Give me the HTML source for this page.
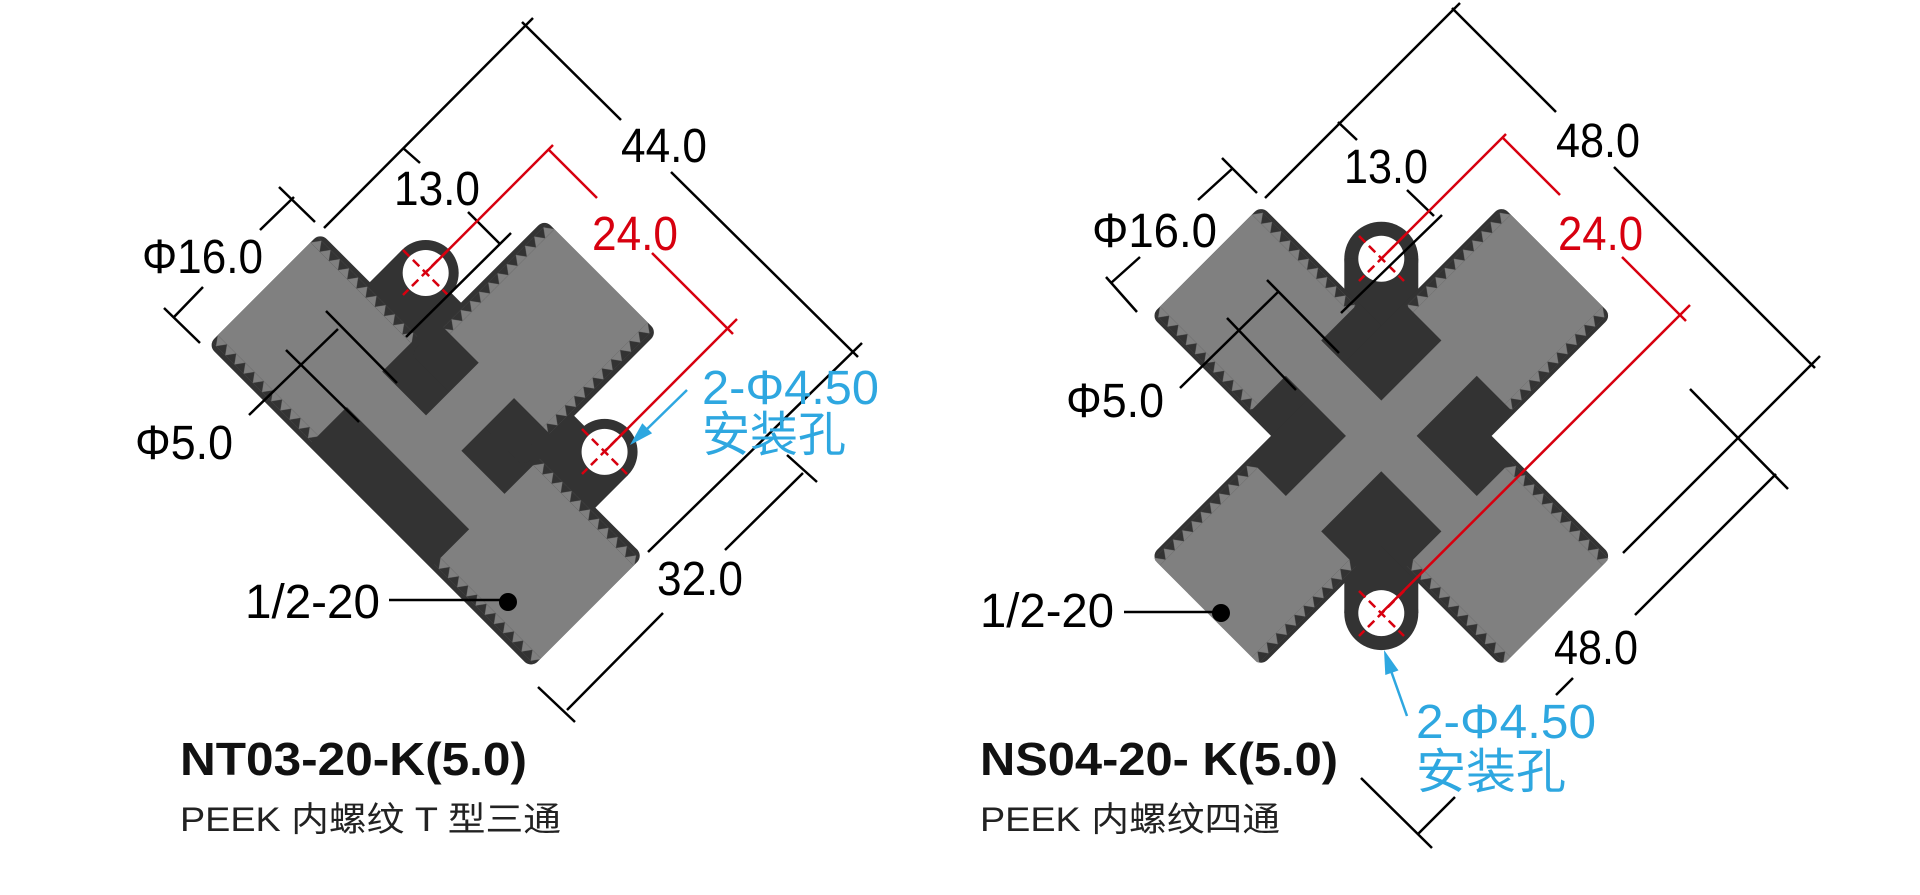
<!DOCTYPE html>
<html><head><meta charset="utf-8"><style>
html,body{margin:0;padding:0;background:#fff;}
svg{display:block;}
text{font-family:"Liberation Sans","Noto Sans CJK SC",sans-serif;}
</style></head><body>
<svg width="1920" height="895" viewBox="0 0 1920 895" xmlns="http://www.w3.org/2000/svg">
<defs>
<pattern id="tu" width="13" height="9" patternUnits="userSpaceOnUse"><path d="M0 9 L6.5 0 L13 9Z" fill="#808080"/></pattern>
<pattern id="td" width="13" height="9" patternUnits="userSpaceOnUse"><path d="M0 0 L6.5 9 L13 0Z" fill="#808080"/></pattern>
<pattern id="tl" width="9" height="13" patternUnits="userSpaceOnUse"><path d="M9 0 L0 6.5 L9 13Z" fill="#808080"/></pattern>
<pattern id="tr" width="9" height="13" patternUnits="userSpaceOnUse"><path d="M0 0 L9 6.5 L0 13Z" fill="#808080"/></pattern>
</defs>

<!-- LEFT T piece -->
<g transform="rotate(45)">
 <g fill="#333">
  <rect x="391" y="-62" width="457" height="159" rx="9"/>
  <rect x="540" y="-230" width="160" height="190" rx="9"/>
  <circle cx="494" cy="-108" r="33"/><rect x="461" y="-108" width="66" height="60"/>
  <rect x="500" y="-112" width="52" height="60"/>
  <circle cx="747" cy="-108" r="33"/><rect x="714" y="-108" width="66" height="60"/>
  <rect x="690" y="-112" width="50" height="60"/>
 </g>
 <g fill="#808080">
  <rect x="391" y="-7.5" width="457" height="50"/>
  <rect x="595" y="-230" width="50" height="272"/>
  <rect x="391" y="-48" width="142" height="131"/>
  <rect x="706" y="-48" width="142" height="131"/>
  <rect x="554" y="-230" width="132" height="148"/>
 </g>
 <g transform="translate(391,-57)"><rect width="142" height="9" fill="url(#tu)"/></g>
 <g transform="translate(391,83)"><rect width="142" height="9" fill="url(#td)"/></g>
 <g transform="translate(706,-57)"><rect width="142" height="9" fill="url(#tu)"/></g>
 <g transform="translate(706,83)"><rect width="142" height="9" fill="url(#td)"/></g>
 <g transform="translate(545,-230)"><rect width="9" height="148" fill="url(#tl)"/></g>
 <g transform="translate(686,-230)"><rect width="9" height="148" fill="url(#tr)"/></g>
 <circle cx="494" cy="-108" r="23" fill="#fff"/>
 <circle cx="747" cy="-108" r="23" fill="#fff"/>
</g>

<!-- RIGHT cross piece -->
<g fill="#333">
 <circle cx="1381.3" cy="258.7" r="37"/><rect x="1344.3" y="258.7" width="74" height="80"/>
 <circle cx="1381.3" cy="613.1" r="37"/><rect x="1344.3" y="533" width="74" height="80"/>
</g>
<g transform="translate(1381.3,435.9) rotate(45)">
 <g fill="#333">
  <rect x="-248" y="-78" width="496" height="156" rx="9"/>
  <rect x="-78" y="-248" width="156" height="496" rx="9"/>
 </g>
 <g fill="#808080">
  <rect x="-248" y="-25" width="496" height="50"/>
  <rect x="-25" y="-248" width="50" height="496"/>
  <rect x="110" y="-65" width="138" height="130"/>
  <rect x="-248" y="-65" width="138" height="130"/>
  <rect x="-65" y="110" width="130" height="138"/>
  <rect x="-65" y="-248" width="130" height="138"/>
 </g>
 <g transform="translate(110,-74)"><rect width="138" height="9" fill="url(#tu)"/></g>
 <g transform="translate(110,65)"><rect width="138" height="9" fill="url(#td)"/></g>
 <g transform="translate(-248,-74)"><rect width="138" height="9" fill="url(#tu)"/></g>
 <g transform="translate(-248,65)"><rect width="138" height="9" fill="url(#td)"/></g>
 <g transform="translate(-74,110)"><rect width="9" height="138" fill="url(#tl)"/></g>
 <g transform="translate(65,110)"><rect width="9" height="138" fill="url(#tr)"/></g>
 <g transform="translate(-74,-248)"><rect width="9" height="138" fill="url(#tl)"/></g>
 <g transform="translate(65,-248)"><rect width="9" height="138" fill="url(#tr)"/></g>
</g>
<circle cx="1381.3" cy="258.7" r="23" fill="#fff"/>
<circle cx="1381.3" cy="613.1" r="23" fill="#fff"/>

<!-- red dashed crosses -->
<g stroke="#d7000f" stroke-width="2.5" stroke-dasharray="9 5" fill="none">
 <path d="M403 250 L448 295 M448 250 L403 295"/>
 <path d="M582 429 L627 474 M627 429 L582 474"/>
 <path d="M1359 236 L1404 281 M1404 236 L1359 281"/>
 <path d="M1359 591 L1404 636 M1404 591 L1359 636"/>
</g>

<!-- black dimension lines -->
<g stroke="#000" stroke-width="2.5" fill="none">
 <path d="M324 228 L533 18"/>
 <path d="M522 22 L621 120 M671 172 L858 357"/>
 <path d="M648 552 L862 343"/>
 <path d="M403 148 L420 163 M468 212 L500 244"/>
 <path d="M511 233 L406 337"/>
 <path d="M279 187 L315 222 M260 230 L294 197"/>
 <path d="M164 308 L200 343 M174 317 L203 287"/>
 <path d="M326 311 L397 383 M286 350 L359 422 M249 415 L338 329"/>
 <path d="M567 710 L663 613 M725 550 L803 473 M538 687 L575 722 M787 455 L817 482"/>
 <path d="M389 600 L508 600"/>
 <path d="M1265 198 L1460 3"/>
 <path d="M1452 8 L1556 112 M1614 167 L1815 368"/>
 <path d="M1623 553 L1820 356"/>
 <path d="M1338 122 L1357 140 M1407 190 L1434 216"/>
 <path d="M1442 215 L1341 313"/>
 <path d="M1222 158 L1257 193 M1198 200 L1233 168"/>
 <path d="M1106 277 L1137 312 M1111 283 L1140 257"/>
 <path d="M1267 280 L1339 353 M1227 318 L1296 390 M1180 388 L1278 292"/>
 <path d="M1418 834 L1455 797 M1556 695 L1573 678 M1635 615 L1776 474 M1690 389 L1788 489 M1361 778 L1432 848"/>
 <path d="M1124 612 L1221 612"/>
</g>
<circle cx="508" cy="602" r="9" fill="#000"/>
<circle cx="1221" cy="613" r="9" fill="#000"/>

<!-- red lines -->
<g stroke="#d7000f" stroke-width="2.5" fill="none">
 <path d="M425.5 272.8 L553 145"/>
 <path d="M549 150 L597 198 M652 253 L733 334"/>
 <path d="M604.6 451.6 L737 319"/>
 <path d="M1381.3 258.7 L1506 134"/>
 <path d="M1502 137 L1560 195 M1622 257 L1686 321"/>
 <path d="M1381.3 613.1 L1690 305"/>
</g>

<!-- blue leaders -->
<g stroke="#2ea7e0" stroke-width="2.5" fill="none">
 <path d="M687 390 L645 431"/>
 <path d="M1407 716 L1390 668"/>
</g>
<path d="M630 445 L652.1 433.3 L642.3 423.3Z" fill="#2ea7e0"/>
<path d="M1384 650 L1398.5 670.4 L1385.3 675Z" fill="#2ea7e0"/>

<!-- dimension texts -->
<g font-size="48" fill="#000">
 <text x="142" y="273" textLength="121" lengthAdjust="spacingAndGlyphs">Φ16.0</text>
 <text x="394" y="205" textLength="86" lengthAdjust="spacingAndGlyphs">13.0</text>
 <text x="621" y="162" textLength="86" lengthAdjust="spacingAndGlyphs">44.0</text>
 <text x="135" y="459" textLength="98" lengthAdjust="spacingAndGlyphs">Φ5.0</text>
 <text x="657" y="595" textLength="86" lengthAdjust="spacingAndGlyphs">32.0</text>
 <text x="245" y="618" textLength="135" lengthAdjust="spacingAndGlyphs">1/2-20</text>
 <text x="1092" y="247" textLength="125" lengthAdjust="spacingAndGlyphs">Φ16.0</text>
 <text x="1344" y="183" textLength="84" lengthAdjust="spacingAndGlyphs">13.0</text>
 <text x="1556" y="157" textLength="84" lengthAdjust="spacingAndGlyphs">48.0</text>
 <text x="1066" y="417" textLength="98" lengthAdjust="spacingAndGlyphs">Φ5.0</text>
 <text x="980" y="627" textLength="134" lengthAdjust="spacingAndGlyphs">1/2-20</text>
 <text x="1554" y="664" textLength="84" lengthAdjust="spacingAndGlyphs">48.0</text>
</g>
<g font-size="48" fill="#d7000f">
 <text x="592" y="250" textLength="86" lengthAdjust="spacingAndGlyphs">24.0</text>
 <text x="1558" y="250" textLength="85" lengthAdjust="spacingAndGlyphs">24.0</text>
</g>
<g font-size="48" fill="#2ea7e0">
 <text x="702" y="404" textLength="177" lengthAdjust="spacingAndGlyphs">2-Φ4.50</text>
 <text x="702" y="451" textLength="144" lengthAdjust="spacingAndGlyphs">安装孔</text>
 <text x="1416" y="738" textLength="180" lengthAdjust="spacingAndGlyphs">2-Φ4.50</text>
 <text x="1416" y="788" textLength="150" lengthAdjust="spacingAndGlyphs">安装孔</text>
</g>

<text x="180" y="775" font-size="46" font-weight="bold" fill="#111" textLength="347" lengthAdjust="spacingAndGlyphs">NT03-20-K(5.0)</text>
<text x="180" y="831" font-size="34" fill="#222" textLength="381" lengthAdjust="spacingAndGlyphs">PEEK 内螺纹 T 型三通</text>
<text x="980" y="775" font-size="46" font-weight="bold" fill="#111" textLength="358" lengthAdjust="spacingAndGlyphs">NS04-20- K(5.0)</text>
<text x="980" y="831" font-size="34" fill="#222" textLength="300" lengthAdjust="spacingAndGlyphs">PEEK 内螺纹四通</text>
</svg>
</body></html>
